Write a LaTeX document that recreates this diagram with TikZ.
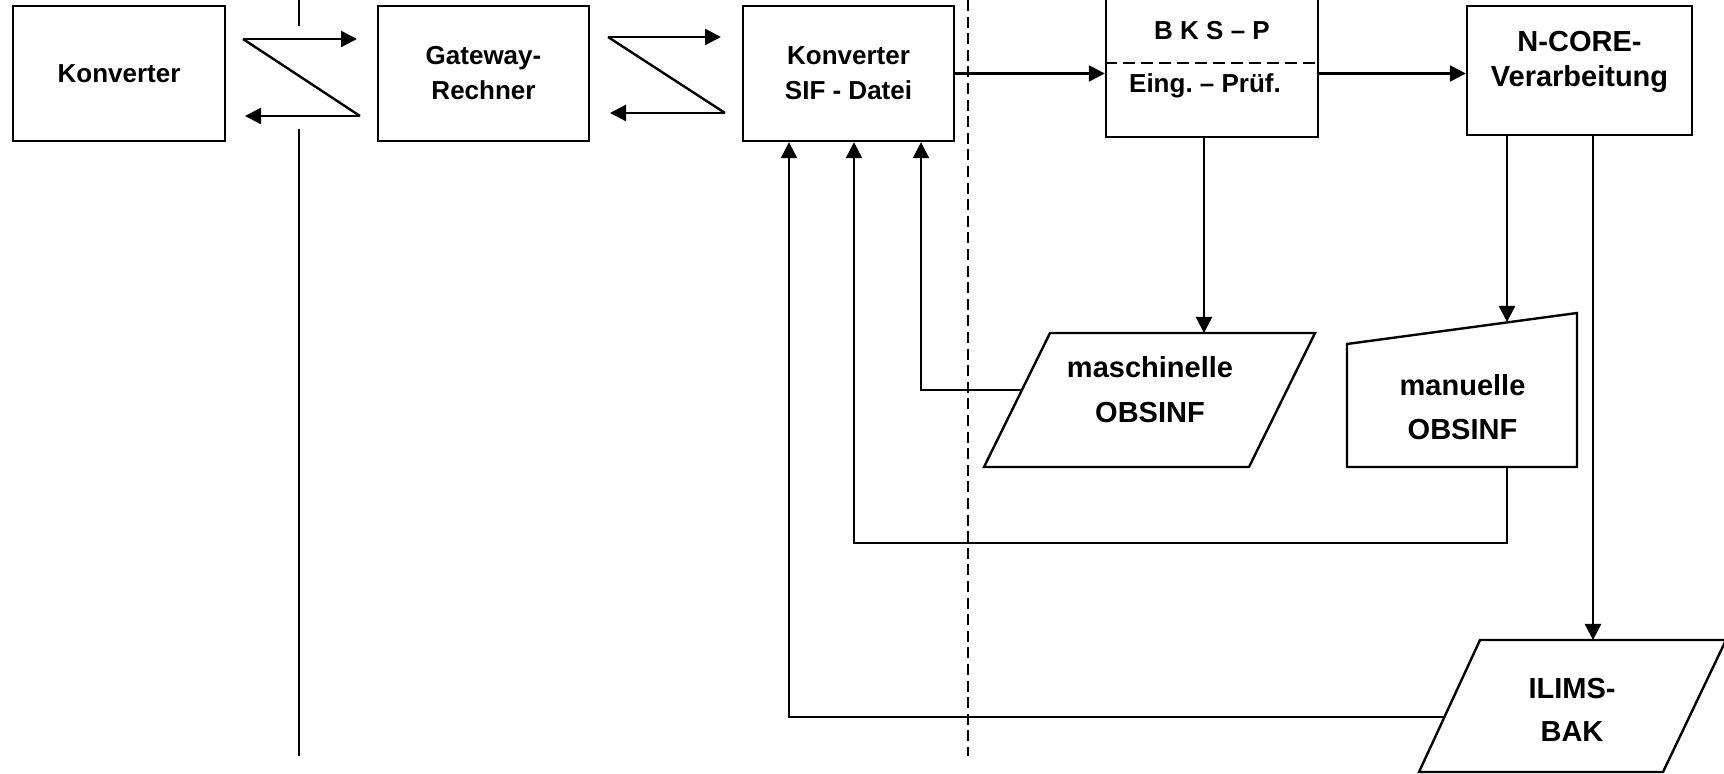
\documentclass[tikz,border=0pt]{standalone}
\usepackage{fontspec}
\setmainfont{Liberation Sans}
\usetikzlibrary{arrows.meta}
\begin{document}
\frenchspacing
\begin{tikzpicture}[x=0.5pt,y=-0.5pt,
  ln/.style={line width=1.2pt},
  arr/.style={line width=1.2pt,-{Triangle[length=8pt,width=8pt]}},
  box/.style={draw,line width=1.2pt,rectangle,inner sep=0pt},
  shp/.style={draw,line width=1.2pt,line join=miter},
  ts/.style={font=\bfseries\fontsize{13}{17.5}\selectfont,align=center,inner sep=0pt},
  tl/.style={font=\bfseries\fontsize{14.5}{22.5}\selectfont,align=center,inner sep=0pt},
]
\useasboundingbox (0,0) rectangle (1724,774);
\clip (0,0) rectangle (1724,774);

% separators
\draw[ln] (299,0) -- (299,26);
\draw[ln] (299,129) -- (299,756);
\draw[line width=0.9pt,dash pattern=on 5.5pt off 2.8pt] (968,0) -- (968,756);

% boxes
\node[box,ts,minimum width=106pt,minimum height=67.5pt] (konv) at (119,73.5) {Konverter};
\node[box,ts,minimum width=105.5pt,minimum height=67.5pt] (gate) at (483.5,73.5) {Gateway-\\Rechner};
\node[box,ts,minimum width=105.5pt,minimum height=67.5pt] (sif) at (848.5,73.5) {Konverter\\SIF - Datei};
\node[box,minimum width=106pt,minimum height=78.5pt] (bks) at (1212,58.5) {};
\node[ts] (bksA) at (1212,31) {B K S – P};
\node[ts] (bksB) at (1205,86) {Eing.\ – Prüf.};
\coordinate (bd) at (1212,63);
\draw[line width=1.1pt,dash pattern=on 6pt off 3pt] (bks.west |- bd) -- (bks.east |- bd);
\node[box,minimum width=112.5pt,minimum height=64.5pt] (ncore) at (1579.5,70.5) {};
\node[tl,font=\bfseries\fontsize{14.5}{17.5}\selectfont] (ncoreT) at (1579.5,62) {N-CORE-\\Verarbeitung};

% maschinelle OBSINF (parallelogram)
\draw[shp] (1050,333) -- (1315,333) -- (1249,467) -- (984,467) -- cycle;
\node[tl] (masch) at (1150,390) {maschinelle\\OBSINF};
% manuelle OBSINF (manual input)
\draw[shp] (1347,344) -- (1577,313) -- (1577,467) -- (1347,467) -- cycle;
\node[tl,font=\bfseries\fontsize{14.5}{22}\selectfont] (manu) at (1462.5,407) {manuelle\\OBSINF};
% ILIMS-BAK (parallelogram)
\draw[shp] (1480,640) -- (1726,640) -- (1663,772) -- (1419,772) -- cycle;
\node[tl,font=\bfseries\fontsize{14.5}{21.5}\selectfont] (ilims) at (1572,710) {ILIMS-\\BAK};

% Z connectors
\coordinate (za1) at (243,39);
\coordinate (za2) at (357,39);
\coordinate (za3) at (360,116);
\coordinate (za4) at (245,116);
\draw[ln] (za1) -- (za3);
\draw[arr] (za1) -- (za2);
\draw[arr] (za3) -- (za4);
\coordinate (zb1) at (608,37);
\coordinate (zb2) at (721,37);
\coordinate (zb3) at (725,113);
\coordinate (zb4) at (610,113);
\draw[ln] (zb1) -- (zb3);
\draw[arr] (zb1) -- (zb2);
\draw[arr] (zb3) -- (zb4);

% main flow
\draw[arr] (sif.east) -- (sif.east -| bks.west);
\draw[arr] (bks.east |- sif.east) -- (ncore.west |- sif.east);

% down arrows
\coordinate (mIn) at (1204,333);
\coordinate (manuIn) at (1507,322);
\coordinate (ilimsIn) at (1593,640);
\draw[arr] (bks.south -| mIn) -- (mIn);
\draw[arr] (ncore.south -| manuIn) -- (manuIn);
\draw[arr] (ncore.south -| ilimsIn) -- (ilimsIn);

% feedback to SIF
\coordinate (mOut) at (1022,390);
\coordinate (c3) at (921,390);
\draw[arr] (mOut) -- (c3) -- (c3 |- sif.south);
\coordinate (manuOut) at (1507,467);
\coordinate (c2) at (854,543);
\draw[arr] (manuOut) -- (manuOut |- c2) -- (c2) -- (c2 |- sif.south);
\coordinate (ilimsOut) at (1444,717);
\coordinate (c1) at (789,717);
\draw[arr] (ilimsOut) -- (c1) -- (c1 |- sif.south);
\end{tikzpicture}
\end{document}
